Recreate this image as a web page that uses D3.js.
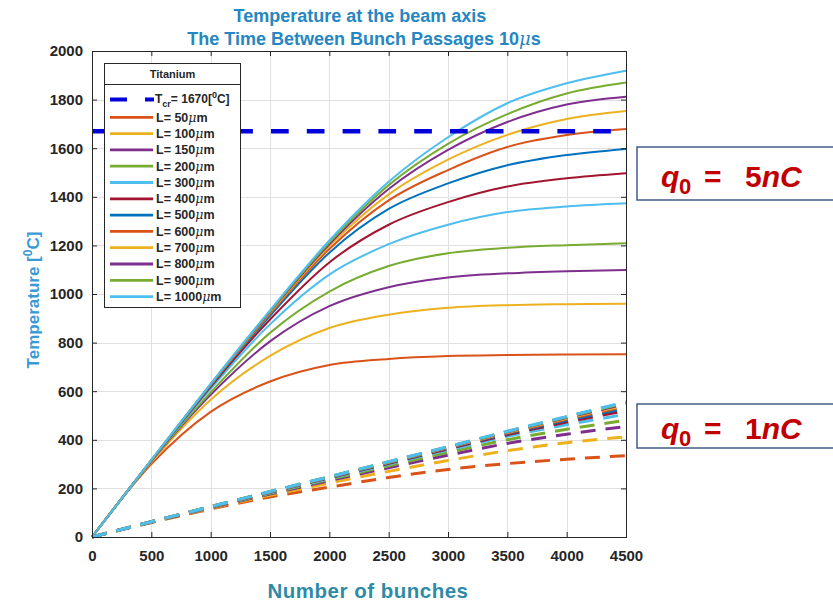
<!DOCTYPE html>
<html>
<head>
<meta charset="utf-8">
<script src="https://cdn.jsdelivr.net/npm/d3@7"></script>
<style>
  body { margin: 0; background: #fff; }
  svg { display: block; }
  text { font-family: "Liberation Sans", Arial, sans-serif; }
</style>
</head>
<body>
<svg id="chart" width="833" height="603"></svg>
<script>
// ---- data ----
const lengths = [50, 100, 150, 200, 300, 400, 500, 600, 700, 800, 900, 1000];
const lineColors = ['#D95319', '#EDB120', '#7E2F8E', '#77AC30', '#4DBEEE', '#A2142F',
                    '#0072BD', '#D95319', '#EDB120', '#7E2F8E', '#77AC30', '#4DBEEE'];

const bunches = [0, 500, 1000, 1500, 2000, 2500, 3000, 3500, 4000, 4500];

// q0 = 5 nC (solid lines)
const temp5nC = [
  [0, 300, 515, 640, 708, 733, 745, 749, 751, 752],
  [0, 308, 565, 745, 860, 915, 943, 954, 958, 960],
  [0, 312, 585, 805, 950, 1028, 1068, 1085, 1094, 1099],
  [0, 313, 595, 840, 1010, 1115, 1168, 1190, 1201, 1209],
  [0, 314, 610, 875, 1080, 1205, 1285, 1337, 1360, 1373],
  [0, 315, 618, 895, 1130, 1285, 1378, 1442, 1476, 1497],
  [0, 315, 622, 910, 1170, 1350, 1455, 1530, 1572, 1597],
  [0, 316, 625, 918, 1185, 1385, 1510, 1605, 1654, 1679],
  [0, 316, 627, 923, 1197, 1410, 1553, 1655, 1720, 1753],
  [0, 316, 628, 927, 1205, 1432, 1593, 1708, 1780, 1812],
  [0, 316, 629, 930, 1212, 1448, 1618, 1740, 1825, 1870],
  [0, 317, 630, 933, 1220, 1462, 1645, 1785, 1867, 1919]
];

// q0 = 1 nC (dashed lines)
const temp1nC = [
  [0, 60, 115, 165, 205, 245, 278, 302, 320, 335],
  [0, 60, 118, 172, 222, 270, 315, 355, 388, 412],
  [0, 61, 120, 177, 232, 285, 337, 385, 423, 455],
  [0, 62, 121, 180, 237, 293, 348, 400, 443, 480],
  [0, 62, 122, 182, 241, 300, 358, 414, 462, 505],
  [0, 62, 123, 184, 244, 303, 363, 421, 473, 520],
  [0, 63, 124, 185, 245, 305, 366, 426, 480, 530],
  [0, 63, 124, 185, 246, 307, 368, 429, 485, 538],
  [0, 63, 125, 186, 247, 308, 369, 431, 489, 543],
  [0, 63, 125, 186, 247, 309, 370, 433, 492, 548],
  [0, 63, 125, 187, 248, 309, 371, 434, 494, 552],
  [0, 63, 125, 187, 248, 310, 372, 435, 496, 556]
];

const tCritical = 1670;
const xTicks = [0, 500, 1000, 1500, 2000, 2500, 3000, 3500, 4000, 4500];
const yTicks = [0, 200, 400, 600, 800, 1000, 1200, 1400, 1600, 1800, 2000];

// ---- layout ----
const svg = d3.select('#chart');
const plot = { left: 92, right: 626, top: 51, bottom: 537 };

const x = d3.scaleLinear().domain([0, 4500]).range([plot.left, plot.right]);
const y = d3.scaleLinear().domain([0, 2000]).range([plot.bottom, plot.top]);

svg.append('rect').attr('width', 833).attr('height', 603).attr('fill', '#fff');

// grid
const grid = svg.append('g').attr('stroke', '#e0e0e0').attr('stroke-width', 1);
xTicks.forEach(t => {
  grid.append('line')
    .attr('x1', Math.round(x(t)) + 0.5).attr('x2', Math.round(x(t)) + 0.5)
    .attr('y1', plot.top).attr('y2', plot.bottom);
});
yTicks.forEach(t => {
  grid.append('line')
    .attr('y1', Math.round(y(t)) + 0.5).attr('y2', Math.round(y(t)) + 0.5)
    .attr('x1', plot.left).attr('x2', plot.right);
});

const line = d3.line()
  .x(d => x(d[0]))
  .y(d => y(d[1]))
  .curve(d3.curveMonotoneX);

// solid curves (5 nC)
temp5nC.forEach((vals, i) => {
  svg.append('path')
    .datum(bunches.map((b, j) => [b, vals[j]]))
    .attr('d', line)
    .attr('fill', 'none')
    .attr('stroke', lineColors[i])
    .attr('stroke-width', 2);
});

// dashed curves (1 nC)
temp1nC.forEach((vals, i) => {
  svg.append('path')
    .datum(bunches.map((b, j) => [b, vals[j]]))
    .attr('d', line)
    .attr('fill', 'none')
    .attr('stroke', lineColors[i])
    .attr('stroke-width', 3)
    .attr('stroke-dasharray', '15,10');
});

// critical temperature
svg.append('line')
  .attr('x1', x(0)).attr('x2', x(4500))
  .attr('y1', y(tCritical)).attr('y2', y(tCritical))
  .attr('stroke', '#0000D8')
  .attr('stroke-width', 4.5)
  .attr('stroke-dasharray', '17.7,18.1');

// axes
const tickFont = g => g.selectAll('text')
  .attr('font-size', 15).attr('font-weight', 'bold').attr('fill', '#262626');

svg.append('g')
  .attr('transform', `translate(0,${plot.bottom})`)
  .call(d3.axisBottom(x).tickValues(xTicks).tickSize(-5).tickPadding(13).tickFormat(d3.format('d')))
  .call(g => g.select('.domain').remove())
  .call(g => g.selectAll('line').attr('stroke', '#262626'))
  .call(tickFont);

svg.append('g')
  .attr('transform', `translate(0,${plot.top})`)
  .call(d3.axisTop(x).tickValues(xTicks).tickSize(-5).tickFormat(''))
  .call(g => g.select('.domain').remove())
  .call(g => g.selectAll('line').attr('stroke', '#262626'));

svg.append('g')
  .attr('transform', `translate(${plot.left},0)`)
  .call(d3.axisLeft(y).tickValues(yTicks).tickSize(-5).tickPadding(9).tickFormat(d3.format('d')))
  .call(g => g.select('.domain').remove())
  .call(g => g.selectAll('line').attr('stroke', '#262626'))
  .call(tickFont);

svg.append('g')
  .attr('transform', `translate(${plot.right},0)`)
  .call(d3.axisRight(y).tickValues(yTicks).tickSize(-5).tickFormat(''))
  .call(g => g.select('.domain').remove())
  .call(g => g.selectAll('line').attr('stroke', '#262626'));

svg.append('rect')
  .attr('x', plot.left + 0.5).attr('y', plot.top + 0.5)
  .attr('width', plot.right - plot.left).attr('height', plot.bottom - plot.top)
  .attr('fill', 'none').attr('stroke', '#262626').attr('stroke-width', 1);

// title
const titleColor = '#2486C2';
svg.append('text')
  .attr('x', 360).attr('y', 21.7)
  .attr('text-anchor', 'middle').attr('font-size', 18).attr('font-weight', 'bold')
  .attr('fill', titleColor)
  .text('Temperature at the beam axis');
const t2 = svg.append('text')
  .attr('x', 364).attr('y', 45)
  .attr('text-anchor', 'middle').attr('font-size', 18).attr('font-weight', 'bold')
  .attr('fill', titleColor);
t2.append('tspan').text('The Time Between Bunch Passages 10');
t2.append('tspan').attr('font-style', 'italic').attr('font-weight', 'normal')
  .attr('font-family', '"DejaVu Serif", serif').text('\u03bc');
t2.append('tspan').text('s');

// y label
const yl = svg.append('text')
  .attr('transform', 'translate(38.5,300) rotate(-90)')
  .attr('text-anchor', 'middle').attr('font-size', 17).attr('font-weight', 'bold')
  .attr('fill', '#3A9AD6');
yl.append('tspan').text('Temperature  [');
yl.append('tspan').attr('font-size', 12).attr('dy', -7).text('0');
yl.append('tspan').attr('dy', 7).text('C]');

// x label
svg.append('text')
  .attr('x', 368).attr('y', 598)
  .attr('text-anchor', 'middle').attr('font-size', 20.5).attr('font-weight', 'bold')
  .attr('letter-spacing', 0.5)
  .attr('font-family', 'Lato, "Open Sans", sans-serif')
  .attr('fill', '#2E8BA8')
  .text('Number of bunches');

// legend
const leg = svg.append('g');
const legBox = { x: 104.5, y: 63.5, w: 136, h: 244 };
leg.append('rect')
  .attr('x', legBox.x).attr('y', legBox.y).attr('width', legBox.w).attr('height', legBox.h)
  .attr('fill', '#fff').attr('stroke', '#262626').attr('stroke-width', 1);
leg.append('line')
  .attr('x1', legBox.x).attr('x2', legBox.x + legBox.w)
  .attr('y1', 84.5).attr('y2', 84.5)
  .attr('stroke', '#262626').attr('stroke-width', 1);
leg.append('text')
  .attr('x', legBox.x + legBox.w / 2).attr('y', 78)
  .attr('text-anchor', 'middle').attr('font-size', 11).attr('font-weight', 'bold')
  .attr('fill', '#262626').text('Titanium');

// Tcr entry
leg.append('line')
  .attr('x1', 110).attr('x2', 154).attr('y1', 99.5).attr('y2', 99.5)
  .attr('stroke', '#0000D8').attr('stroke-width', 4)
  .attr('stroke-dasharray', '17,18');
const tcr = leg.append('text')
  .attr('x', 155).attr('y', 103).attr('font-size', 12).attr('font-weight', 'bold')
  .attr('fill', '#262626');
tcr.append('tspan').text('T');
tcr.append('tspan').attr('font-size', 9).attr('dy', 4).text('cr');
tcr.append('tspan').attr('dy', -4).text('= 1670[');
tcr.append('tspan').attr('font-size', 9).attr('dy', -5).text('0');
tcr.append('tspan').attr('dy', 5).text('C]');

lengths.forEach((L, i) => {
  const ly = 117.3 + i * 16.3;
  leg.append('line')
    .attr('x1', 110).attr('x2', 153).attr('y1', ly).attr('y2', ly)
    .attr('stroke', lineColors[i]).attr('stroke-width', 2.8);
  const tx = leg.append('text')
    .attr('x', 156).attr('y', ly + 4.3).attr('font-size', 12.5).attr('font-weight', 'bold')
    .attr('fill', '#262626');
  tx.append('tspan').text(`L= ${L}`);
  tx.append('tspan').attr('font-style', 'italic').attr('font-weight', 'normal')
    .attr('font-family', '"DejaVu Serif", serif').text('\u03bc');
  tx.append('tspan').text('m');
});

// charge annotations
function chargeBox(top, bottom, baseline, digit) {
  svg.append('rect')
    .attr('x', 637).attr('y', top).attr('width', 200).attr('height', bottom - top)
    .attr('fill', '#fff').attr('stroke', '#34507E').attr('stroke-width', 1.4);
  const t = svg.append('text')
    .attr('y', baseline)
    .attr('font-family', '"Liberation Serif", "DejaVu Serif", serif')
    .attr('font-size', 30).attr('font-weight', 'bold').attr('fill', '#C00000');
  t.append('tspan').attr('x', 661).attr('font-style', 'italic').text('q');
  t.append('tspan').attr('x', 679).attr('font-size', 22).attr('dy', 7).text('0');
  t.append('tspan').attr('x', 704).attr('dy', -7).text('=');
  t.append('tspan').attr('x', 745).text(digit);
  t.append('tspan').attr('font-style', 'italic').text('nC');
}
chargeBox(147, 200, 187, '5');
chargeBox(404, 448, 439, '1');
</script>
</body>
</html>
